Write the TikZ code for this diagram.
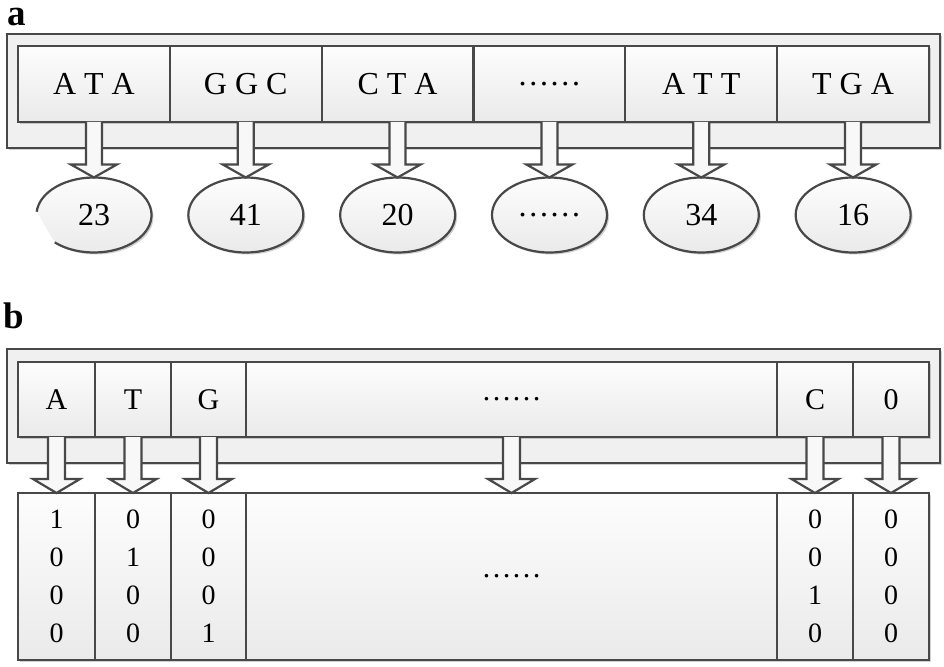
\documentclass[tikz,border=0pt]{standalone}
\usepackage{fontspec}
\setmainfont{Liberation Serif}
\usetikzlibrary{calc,shadows,shapes.geometric}
\definecolor{edge}{HTML}{484848}
\definecolor{framefill}{HTML}{F0F0F0}
\definecolor{celltop}{HTML}{FDFDFD}
\definecolor{cellbot}{HTML}{EAEAEA}
\definecolor{arrfill}{HTML}{F8F8F8}
\tikzset{
  every node/.style={inner sep=0pt, outer sep=0pt},
  softshadow/.style={drop shadow={shadow xshift=2pt, shadow yshift=-2pt, opacity=0.18, fill=black}},
  outerframe/.style={draw=edge, line width=2.2pt, fill=framefill, softshadow},
  cellbox/.style={rectangle, draw=edge, line width=2.2pt, top color=celltop, bottom color=cellbot, anchor=north west, softshadow},
  acell/.style={cellbox, minimum width=151.83pt, minimum height=76pt, font=\fontsize{32}{38}\selectfont},
  bcell/.style={cellbox, minimum height=75pt, font=\fontsize{30}{36}\selectfont},
  ccell/.style={cellbox, minimum height=167pt, align=center, font=\fontsize{28}{38}\selectfont},
  ellnode/.style={ellipse, minimum width=115pt, minimum height=75pt, font=\fontsize{32}{38}\selectfont},
  ellbox/.style={ellnode, draw=edge, line width=2.2pt, top color=celltop, bottom color=cellbot, softshadow},
  blockarr/.style={draw=edge, line width=2.2pt, fill=arrfill, line join=miter},
  panellabel/.style={anchor=base west, font=\fontsize{37}{42}\selectfont\bfseries},
}
\newcommand\blockarrow[5]{%
  \draw[blockarr] let \p1=(#1.south), \p2=(#2.north) in
    (\x1-#3,\y1) -- (\x1-#3,\y2+#5) -- (\x1-#4,\y2+#5) -- (\x1,\y2)
    -- (\x1+#4,\y2+#5) -- (\x1+#3,\y2+#5) -- (\x1+#3,\y1);%
}
\begin{document}
\begin{tikzpicture}[x=1pt, y=-1pt]
\useasboundingbox (0,0) rectangle (944,666);
\fill[white] (0,0) rectangle (944,666);

% ---------------- panel a ----------------
\node[panellabel] (la) at (8,26) {a};
\draw[outerframe] (7,34) rectangle (940,148);
\foreach \i/\t in {0/A T A, 1/G G C, 2/C T A, 3/……, 4/A T T, 5/T G A}{
  \node[acell] (a\i) at ({18+\i*151.83},46) {\t};
}
% ellipses
\node[ellnode] (e0) at (94,215) {};
\draw[draw=edge, line width=2.2pt, top color=celltop, bottom color=cellbot, softshadow]
  (e0.center) ++(227:57.5pt and 37.5pt)
  arc[start angle=227, end angle=535, x radius=57.5pt, y radius=37.5pt];
\node[font=\fontsize{32}{38}\selectfont] (t0) at (e0.center) {23};
\foreach \i/\t in {1/41, 2/20, 3/……, 4/34, 5/16}{
  \node[ellbox] (e\i) at ({94+\i*151.83},215) {\t};
}
\foreach \i in {0,...,5}{
  \blockarrow{a\i}{e\i}{8pt}{23pt}{13pt}
}

% ---------------- panel b ----------------
\node[panellabel] (lb) at (3,328) {b};
\draw[outerframe] (7,349) rectangle (940,463);
\node[bcell, minimum width=77pt]  (b1) at (18,362)  {A};
\node[bcell, minimum width=76pt]  (b2) at (95,362)  {T};
\node[bcell, minimum width=75pt]  (b3) at (171,362) {G};
\node[bcell, minimum width=531pt] (b4) at (246,362) {……};
\node[bcell, minimum width=76pt]  (b5) at (777,362) {C};
\node[bcell, minimum width=76pt]  (b6) at (853,362) {0};

\node[ccell, minimum width=77pt]  (c1) at (18,493)  {1\\0\\0\\0};
\node[ccell, minimum width=76pt]  (c2) at (95,493)  {0\\1\\0\\0};
\node[ccell, minimum width=75pt]  (c3) at (171,493) {0\\0\\0\\1};
\node[ccell, minimum width=531pt, font=\fontsize{30}{36}\selectfont] (c4) at (246,493) {……};
\node[ccell, minimum width=76pt]  (c5) at (777,493) {0\\0\\1\\0};
\node[ccell, minimum width=76pt]  (c6) at (853,493) {0\\0\\0\\0};

\foreach \i in {1,...,6}{
  \blockarrow{b\i}{c\i}{8.5pt}{23.5pt}{14pt}
}
\end{tikzpicture}
\end{document}
